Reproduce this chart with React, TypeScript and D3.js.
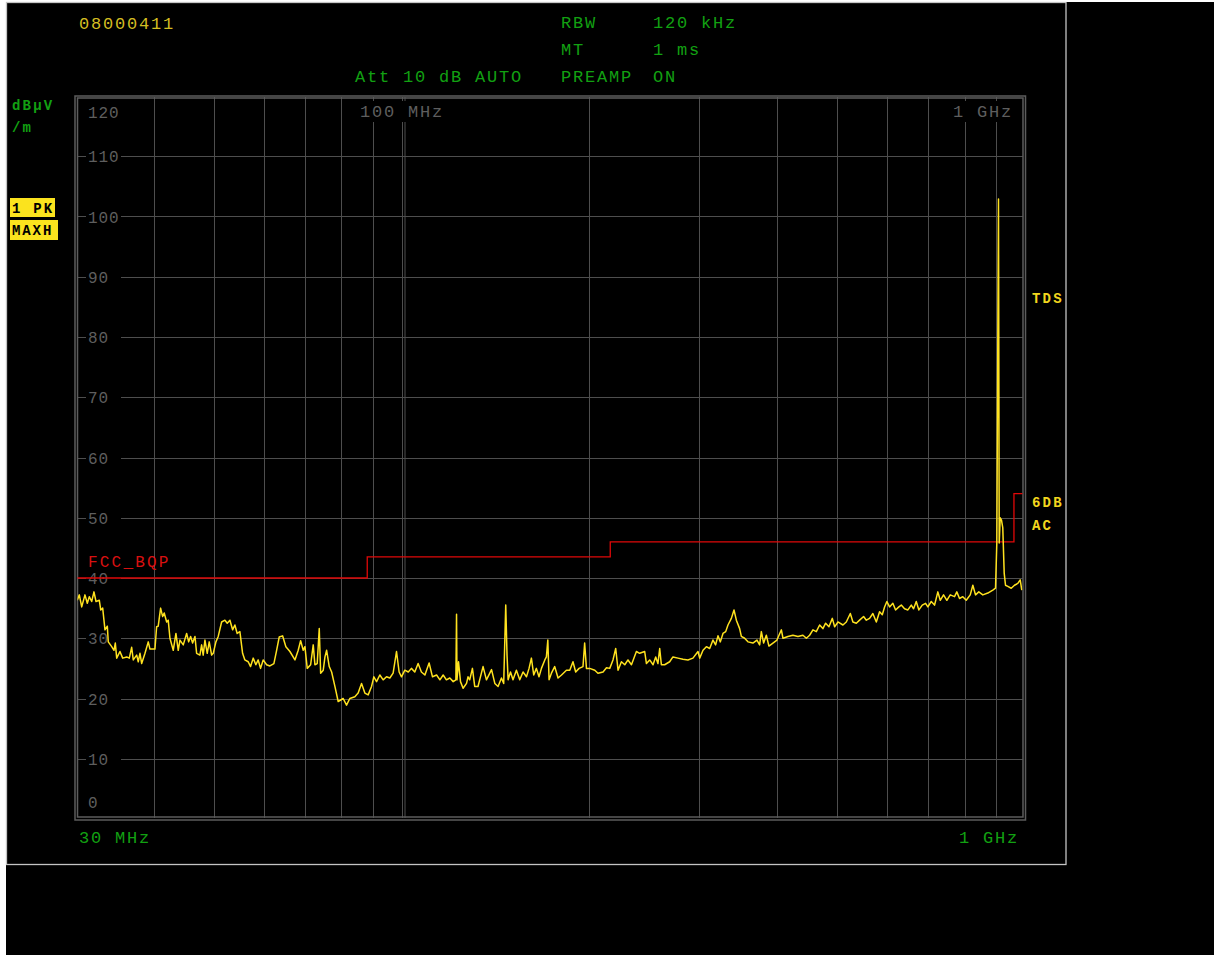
import React from "react";
import * as d3 from "d3";

// ---- Data ----
const traceFreq = [
  30.14, 30.37, 30.64, 31.01, 31.28, 31.51, 31.79, 32.06, 32.3, 32.7, 32.87, 33.11, 33.39, 33.68, 33.8, 34.23,
  34.52, 34.69, 34.87, 35.29, 35.65, 36.18, 36.53, 36.85, 37.07, 37.54, 37.76, 38.0, 38.24, 38.71, 39.18, 39.43,
  40.16, 40.41, 40.65, 41.01, 41.32, 41.56, 41.94, 42.18, 42.45, 42.97, 43.4, 43.77, 44.05, 44.59, 45.15, 45.49,
  45.82, 46.16, 46.56, 46.85, 47.42, 47.72, 48.0, 48.31, 48.72, 49.08, 49.52, 49.81, 50.31, 50.74, 51.38, 52.01,
  52.46, 52.98, 53.51, 53.96, 54.42, 54.97, 55.52, 55.99, 56.68, 57.18, 57.74, 58.31, 58.81, 59.33, 59.91, 60.67,
  61.41, 62.33, 62.96, 63.56, 64.36, 65.15, 66.13, 67.37, 68.19, 68.8, 69.46, 69.9, 70.5, 71.39, 72.08, 72.53,
  73.15, 73.7, 74.08, 74.8, 75.27, 75.74, 76.47, 77.15, 78.09, 79.04, 80.51, 81.52, 82.52, 84.06, 85.09, 86.17,
  87.23, 88.3, 89.41, 90.17, 91.08, 92.19, 93.33, 94.5, 95.66, 96.83, 98.05, 99.0, 99.88, 101.1, 102.4, 103.6,
  104.9, 106.2, 107.5, 108.9, 110.6, 112.0, 113.7, 115.1, 116.5, 117.9, 119.4, 120.9, 122.1, 122.4, 122.6, 123.3,
  124.2, 125.4, 127.0, 127.7, 128.5, 129.8, 130.9, 132.5, 135.0, 136.7, 139.3, 141.0, 142.7, 144.5, 145.7, 146.8,
  147.5, 148.1, 149.4, 150.8, 152.7, 154.6, 156.5, 158.5, 160.0, 161.4, 162.8, 164.4, 166.0, 167.5, 169.6, 170.6,
  171.5, 172.3, 173.8, 175.9, 178.1, 180.4, 183.7, 186.0, 188.2, 190.1, 192.5, 195.3, 196.5, 197.8, 200.2, 204.0,
  206.4, 210.3, 213.0, 215.6, 218.2, 220.4, 222.3, 225.1, 227.9, 230.6, 233.6, 237.9, 240.8, 245.3, 246.9, 249.9,
  253.0, 255.5, 257.6, 259.3, 260.9, 264.1, 269.0, 272.3, 277.4, 282.6, 287.8, 293.2, 298.7, 300.6, 304.3, 308.1,
  311.9, 315.7, 318.8, 321.6, 324.4, 327.6, 330.9, 333.7, 337.9, 341.2, 344.2, 348.4, 350.6, 354.9, 359.3, 365.9,
  371.4, 375.1, 377.5, 380.7, 384.5, 388.2, 394.0, 399.9, 406.5, 408.9, 416.5, 424.2, 432.1, 440.2, 445.8, 451.2,
  456.8, 462.5, 468.2, 473.9, 478.7, 484.6, 490.7, 494.9, 501.0, 510.3, 516.7, 524.4, 529.5, 536.2, 542.7, 550.8,
  556.4, 563.1, 570.0, 577.3, 584.3, 590.2, 595.2, 600.3, 606.3, 613.7, 619.9, 627.5, 633.1, 640.8, 648.7, 656.9,
  662.5, 669.1, 675.6, 684.1, 692.5, 698.4, 707.2, 715.9, 724.7, 731.1, 740.1, 749.2, 758.6, 770.7, 777.3, 785.1,
  794.7, 804.8, 816.8, 824.7, 832.9, 843.1, 855.7, 871.6, 887.9, 896.8, 901.1, 906.7, 909.1, 912.5, 916.8, 921.2,
  926.0, 930.5, 938.5, 950.3, 961.9, 973.7, 982.4, 988.2,
];
const traceLevel = [
  36.3, 37.2, 35.2, 37.2, 35.8, 36.9, 36.1, 37.7, 36.1, 36.3, 34.7, 35.0, 31.4, 32.0, 29.4, 28.6,
  28.0, 29.2, 26.7, 27.8, 26.7, 26.9, 26.7, 28.5, 26.4, 27.2, 26.1, 27.5, 25.8, 27.5, 29.4, 28.2,
  28.2, 31.9, 32.0, 35.0, 33.6, 34.2, 32.7, 33.0, 30.0, 28.0, 30.8, 28.0, 29.7, 28.9, 30.8, 29.4,
  30.3, 29.2, 30.3, 27.5, 27.2, 28.9, 27.2, 29.7, 27.5, 29.4, 27.2, 27.5, 29.4, 30.3, 32.7, 33.0,
  32.5, 33.0, 31.4, 32.2, 30.8, 31.1, 27.5, 26.4, 26.1, 25.3, 26.7, 25.6, 26.4, 25.0, 26.4, 25.6,
  25.4, 25.8, 28.0, 30.2, 30.4, 28.6, 27.8, 26.4, 28.0, 29.6, 28.0, 28.6, 25.0, 25.6, 28.9, 25.6,
  25.8, 31.6, 24.2, 24.7, 26.9, 28.0, 25.3, 24.4, 22.0, 19.5, 20.0, 18.9, 20.0, 20.3, 20.9, 22.5,
  20.9, 20.6, 22.0, 23.6, 22.8, 23.9, 23.1, 23.6, 23.4, 24.2, 27.8, 24.4, 23.6, 24.7, 24.4, 25.0,
  24.4, 25.8, 24.4, 23.9, 25.9, 23.6, 23.9, 23.1, 23.9, 23.1, 23.4, 22.8, 23.1, 34.0, 23.1, 26.1,
  22.8, 21.7, 22.5, 23.6, 23.1, 25.0, 22.0, 22.0, 25.3, 23.1, 24.8, 22.5, 22.0, 23.4, 22.5, 35.5,
  27.2, 23.1, 24.4, 23.1, 24.7, 23.1, 24.4, 23.6, 25.0, 26.7, 23.9, 25.0, 23.6, 25.0, 26.4, 26.9,
  29.7, 23.1, 24.2, 25.3, 23.4, 23.9, 24.7, 24.7, 26.1, 24.4, 25.0, 25.3, 29.2, 25.0, 25.0, 24.7,
  24.2, 24.4, 25.1, 25.0, 26.4, 28.3, 24.7, 26.1, 25.6, 26.4, 25.6, 27.8, 27.5, 27.8, 25.8, 26.4,
  25.6, 26.9, 25.8, 28.3, 25.6, 25.6, 26.1, 26.9, 26.7, 26.5, 26.4, 26.7, 27.8, 26.7, 28.0, 28.6,
  28.3, 29.7, 28.9, 30.4, 29.4, 30.8, 31.1, 32.2, 33.3, 34.7, 33.0, 31.6, 30.3, 30.0, 29.4, 29.2,
  29.7, 28.9, 31.1, 29.2, 30.5, 28.7, 29.2, 29.7, 31.4, 30.0, 30.3, 30.5, 30.3, 30.5, 30.0, 30.5,
  31.4, 31.1, 32.2, 31.6, 32.5, 31.9, 33.3, 31.9, 32.7, 32.2, 32.7, 34.1, 32.7, 32.5, 33.0, 33.6,
  33.0, 33.3, 34.1, 32.7, 34.4, 33.9, 35.2, 36.1, 35.2, 35.8, 34.7, 35.2, 35.5, 34.9, 34.7, 35.5,
  34.9, 36.1, 34.7, 35.5, 35.8, 35.2, 36.1, 35.5, 37.7, 36.3, 37.2, 36.3, 37.2, 36.9, 37.7, 36.6,
  36.9, 36.3, 37.2, 38.8, 37.2, 37.7, 37.2, 37.5, 38.0, 38.3, 45.8, 102.9, 45.8, 50.0, 49.6, 48.3,
  40.8, 38.8, 38.6, 38.3, 38.8, 39.1, 39.7, 38.0,
];

// FCC class B QP limit (MHz range start/end, dBuV/m)
const limitStart = [30, 88, 216, 960];
const limitEnd = [88, 216, 960, 1000];
const limitLevel = [40, 43.5, 46, 54];

const yTicks = [10, 20, 30, 40, 50, 60, 70, 80, 90, 100, 110];
const xGrid = [40, 50, 60, 70, 80, 90, 100, 200, 300, 400, 500, 600, 700, 800, 900];

const FONT = "'Liberation Mono', 'DejaVu Sans Mono', monospace";
const GREEN = "#12a012";
const GRID = "#4e4e4e";
const LABEL = "#5e5e5e";
const TRACE = "#ffe21f";

export default function App() {
  const x = d3.scaleLog().domain([30, 1000]).range([76, 1025]);
  const y = d3.scaleLinear().domain([0, 120]).range([819, 96]);

  const pts: [number, number][] = traceFreq.map((f, i) => [f, traceLevel[i]]);
  const line = d3
    .line<[number, number]>()
    .x((d) => x(d[0]))
    .y((d) => y(d[1]));

  const limitPts: [number, number][] = [];
  limitStart.forEach((s, i) => {
    limitPts.push([s, limitLevel[i]]);
    limitPts.push([limitEnd[i], limitLevel[i]]);
  });

  const txt = (props: any, s: string) => (
    <text fontFamily={FONT} {...props}>
      {s}
    </text>
  );

  const small = { fontSize: 14, fontWeight: "bold", letterSpacing: 2.2 };

  return (
    <svg
      width={1214}
      height={955}
      style={{ position: "absolute", left: 0, top: 0, display: "block" }}
    >
      <defs>
        <clipPath id="plotclip">
          <rect x={77.5} y={98} width={945} height={719} />
        </clipPath>
      </defs>
      <rect x={0} y={0} width={1214} height={955} fill="#ffffff" />
      <rect x={6} y={2} width={1208} height={953} fill="#000000" />
      <rect x={6.5} y={2.5} width={1059.5} height={862} fill="none" stroke="#c4c4c4" strokeWidth={1.3} />

      {/* header texts */}
      {txt({ x: 79, y: 29, fill: "#d4bd22", fontSize: 17, letterSpacing: 1.8 }, "08000411")}
      {txt({ x: 561, y: 28, fill: GREEN, fontSize: 17, letterSpacing: 1.8 }, "RBW")}
      {txt({ x: 653, y: 28, fill: GREEN, fontSize: 17, letterSpacing: 1.8 }, "120 kHz")}
      {txt({ x: 561, y: 55, fill: GREEN, fontSize: 17, letterSpacing: 1.8 }, "MT")}
      {txt({ x: 653, y: 55, fill: GREEN, fontSize: 17, letterSpacing: 1.8 }, "1 ms")}
      {txt({ x: 355, y: 82, fill: GREEN, fontSize: 17, letterSpacing: 1.8 }, "Att 10 dB AUTO")}
      {txt({ x: 561, y: 82, fill: GREEN, fontSize: 17, letterSpacing: 1.8 }, "PREAMP")}
      {txt({ x: 653, y: 82, fill: GREEN, fontSize: 17, letterSpacing: 1.8 }, "ON")}

      {/* left side labels */}
      {txt({ x: 12, y: 110, fill: GREEN, ...small }, "dBµV")}
      {txt({ x: 12, y: 132, fill: GREEN, ...small }, "/m")}
      <rect x={10} y={198} width={45} height={19} fill="#fbe31e" />
      {txt({ x: 12, y: 213, fill: "#000", ...small }, "1 PK")}
      <rect x={10} y={220} width={48} height={20} fill="#fbe31e" />
      {txt({ x: 12, y: 235, fill: "#000", ...small, letterSpacing: 1.9 }, "MAXH")}

      {/* right side labels */}
      {txt({ x: 1032, y: 303, fill: "#f2d61e", ...small }, "TDS")}
      {txt({ x: 1032, y: 507, fill: "#f2d61e", ...small }, "6DB")}
      {txt({ x: 1032, y: 530, fill: "#f2d61e", ...small }, "AC")}

      {/* grid */}
      <g stroke={GRID} strokeWidth={1}>
        {yTicks.map((t) => (
          <line key={"h" + t} x1={77} x2={1023} y1={Math.round(y(t)) + 0.5} y2={Math.round(y(t)) + 0.5} />
        ))}
        {xGrid.map((f) => (
          <line key={"v" + f} x1={Math.round(x(f)) + 0.5} x2={Math.round(x(f)) + 0.5} y1={97} y2={818} />
        ))}
        <line x1={Math.round(x(100)) + 3} x2={Math.round(x(100)) + 3} y1={97} y2={818} />
      </g>

      {/* y labels with black backing */}
      {yTicks.map((t) => (
        <g key={"yl" + t}>
          <rect x={86} y={y(t) - 7} width={35} height={14} fill="#000" />
          {txt({ x: 88, y: y(t) + 6, fill: LABEL, fontSize: 16, letterSpacing: 0.9 }, String(t))}
        </g>
      ))}
      {txt({ x: 88, y: 118, fill: LABEL, fontSize: 16, letterSpacing: 0.9 }, "120")}
      {txt({ x: 88, y: 808, fill: LABEL, fontSize: 16, letterSpacing: 0.9 }, "0")}

      {/* top frequency labels */}
      <rect x={358} y={101} width={88} height={21} fill="#000" />
      {txt({ x: 360, y: 117, fill: LABEL, fontSize: 17, letterSpacing: 1.8 }, "100 MHz")}
      <rect x={950} y={101} width={66} height={21} fill="#000" />
      {txt({ x: 953, y: 117, fill: LABEL, fontSize: 17, letterSpacing: 1.8 }, "1 GHz")}

      {/* frame double line */}
      <rect x={75} y={96} width={950.5} height={724} fill="none" stroke="#5c5c5c" strokeWidth={1.5} />
      <rect x={77.5} y={98} width={945.5} height={719} fill="none" stroke="#5c5c5c" strokeWidth={1.5} />

      {/* limit line */}
      <g clipPath="url(#plotclip)">
        <path d={line(limitPts) || ""} fill="none" stroke="#e00808" strokeWidth={1.3} />
      </g>
      {txt({ x: 88, y: 567, fill: "#d81010", fontSize: 16, letterSpacing: 2.2 }, "FCC_BQP")}

      {/* trace */}
      <g clipPath="url(#plotclip)">
        <path d={line(pts) || ""} fill="none" stroke={TRACE} strokeWidth={1.5} strokeLinejoin="round" />
      </g>

      {/* bottom labels */}
      {txt({ x: 79, y: 843, fill: GREEN, fontSize: 17, letterSpacing: 1.8 }, "30 MHz")}
      {txt({ x: 959, y: 843, fill: GREEN, fontSize: 17, letterSpacing: 1.8 }, "1 GHz")}
    </svg>
  );
}
